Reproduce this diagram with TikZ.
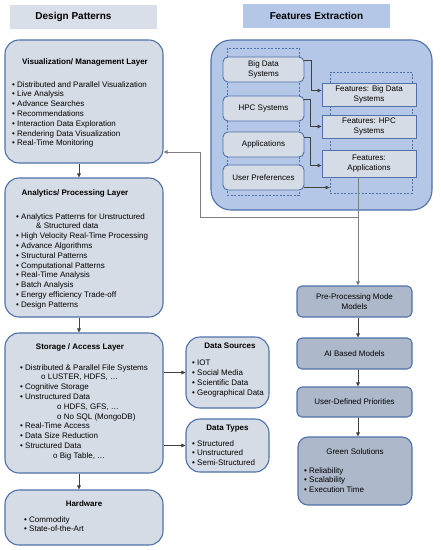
\documentclass[tikz,border=0pt]{standalone}
\usepackage{fontspec}
\setmainfont{Liberation Sans}
\usetikzlibrary{positioning,arrows.meta}

\definecolor{hdrgray}{HTML}{D9DFE9}
\definecolor{hdrblue}{HTML}{B4C7E7}
\definecolor{boxfill}{HTML}{D6DCE5}
\definecolor{boxline}{HTML}{4F71AA}
\definecolor{stepfill}{HTML}{ADB9CA}
\definecolor{linkgray}{HTML}{404040}
\definecolor{fbgray}{HTML}{7F7F7F}

\tikzset{
  hdr/.style={fill=#1, minimum width=147, minimum height=24, inner sep=0pt},
  hdrtxt/.style={font=\fontsize{10}{12}\selectfont\bfseries, inner sep=0pt},
  ttl/.style={font=\fontsize{8}{9.8}\selectfont\bfseries, inner sep=0pt},
  lst/.style={font=\fontsize{8}{9.8}\selectfont, align=left, inner sep=0pt, anchor=north west},
  layer/.style={draw=boxline, fill=boxfill, line width=1.1pt, rounded corners=14pt,
    minimum width=158, inner sep=0pt},
  inbox/.style={draw=boxline, fill=boxfill, line width=0.9pt, rounded corners=5pt,
    minimum width=81, minimum height=25, align=center, inner sep=0pt,
    font=\fontsize{8}{9.8}\selectfont},
  featbox/.style={draw=boxline, fill=boxfill, line width=0.9pt,
    minimum width=94, minimum height=23, align=center, inner sep=0pt,
    font=\fontsize{8}{9.8}\selectfont},
  stepbox/.style={draw=boxline, fill=stepfill, line width=1.1pt, rounded corners=5pt,
    minimum width=115, minimum height=31, align=center, inner sep=0pt,
    font=\fontsize{8}{9.8}\selectfont},
  dashbox/.style={draw=boxline, line width=0.8pt, dash pattern=on 2pt off 1.5pt, inner sep=0pt},
  link/.style={draw=linkgray, line width=0.7pt, -{Triangle[length=4pt,width=3.6pt]}},
  fb/.style={draw=fbgray, line width=0.8pt}
}

\begin{document}
\begin{tikzpicture}[x=1pt,y=-1pt]
\useasboundingbox (0,0) rectangle (440,550);

% headers
\node[hdr=hdrgray] (dph) at (83.5,17) {};
\node[hdrtxt] (dpt) at (73.5,17) {Design Patterns};
\node[hdr=hdrblue] (feh) at (316.5,16) {};
\node[hdrtxt] (fet) at (316.5,16) {Features Extraction};

% design patterns column
\node[layer, minimum height=123] (vis) at (84,101.5) {};
\node[ttl] (vist) at (85,62) {Visualization/ Management Layer};
\node[lst] (visl) at (12,81) {• Distributed and Parallel Visualization\\
• Live Analysis\\ • Advance Searches\\ • Recommendations\\
• Interaction Data Exploration\\ • Rendering Data Visualization\\
• Real-Time Monitoring};

\node[layer, minimum height=139] (ana) at (84,247.5) {};
\node[ttl] (anat) at (75,193) {Analytics/ Processing Layer};
\node[lst] (anal) at (16,213) {• Analytics Patterns for Unstructured\\
\hspace*{20pt}\& Structured data\\ • High Velocity Real-Time Processing\\
• Advance Algorithms\\ • Structural Patterns\\ • Computational Patterns\\
• Real-Time Analysis\\ • Batch Analysis\\ • Energy efficiency Trade-off\\
• Design Patterns};

\node[layer, minimum height=140] (sto) at (84,403) {};
\node[ttl] (stot) at (80,347) {Storage / Access Layer};
\node[lst] (stol) at (20,364) {• Distributed \& Parallel File Systems\\
\hspace*{21pt}o LUSTER, HDFS, …\\ • Cognitive Storage\\ • Unstructured Data\\
\hspace*{37pt}o HDFS, GFS, …\\ \hspace*{37pt}o No SQL (MongoDB)\\
• Real-Time Access\\ • Data Size Reduction\\ • Structured Data\\
\hspace*{33pt}o Big Table, …};

\node[layer, minimum height=55] (hw) at (84,517.5) {};
\node[ttl] (hwt) at (84,504) {Hardware};
\node[lst] (hwl) at (24,516) {• Commodity\\ • State-of-the-Art};

\node[layer, minimum width=83, minimum height=71] (src) at (227.5,372.5) {};
\node[ttl] (srct) at (230,346) {Data Sources};
\node[lst] (srcl) at (192,360) {• IOT\\ • Social Media\\ • Scientific Data\\ • Geographical Data};

\node[layer, minimum width=83, minimum height=53] (typ) at (227.5,445.5) {};
\node[ttl] (typt) at (227.5,429) {Data Types};
\node[lst] (typl) at (192,440) {• Structured\\ • Unstructured\\ • Semi-Structured};

\draw[link] ([xshift=-5]vis.south) -- ([xshift=-5]ana.north);
\draw[link] ([xshift=-5]ana.south) -- ([xshift=-5]sto.north);
\draw[link] ([xshift=-5]sto.south) -- ([xshift=-5]hw.north);
\draw[link] (sto.east |- src) -- (src.west);
\draw[link] (sto.east |- typ) -- (typ.west);

% features extraction
\node[draw=boxline, fill=hdrblue, line width=1.1pt, rounded corners=20pt,
  minimum width=221, minimum height=170] (fe) at (321.5,125) {};
\node[dashbox, minimum width=72, minimum height=147] (dashl) at (263,121.5) {};
\node[dashbox, minimum width=82, minimum height=121] (dashr) at (371,132.5) {};

\node[inbox] (bds) at (263.5,69.5) {Big Data\\Systems};
\node[inbox] (hpc) at (263.5,108.5) {HPC Systems};
\node[inbox] (app) at (263.5,144.5) {Applications};
\node[inbox] (usr) at (263.5,177.5) {User Preferences};

\node[featbox] (fbds) at (369,94.5) {Features: Big Data\\Systems};
\node[featbox] (fhpc) at (369,126.5) {Features: HPC\\Systems};
\node[featbox, minimum height=27] (fapp) at (369,163.5) {Features:\\Applications};

\draw[link] ([yshift=9]bds.east) -- ++(7,0) |- ([yshift=4]fbds.west);
\draw[link] ([yshift=9]hpc.east) -- ++(6,0) |- (fhpc.west);
\draw[link] ([yshift=7]app.east) -- ++(6,0) |- ([yshift=-2]fapp.west);
\draw[link] ([yshift=-10]usr.east) -- ([yshift=-10]usr.east -| dashr.west);

% processing chain
\node[stepbox] (pre) at (354.5,301.5) {Pre-Processing Mode\\Models};
\node[stepbox] (ai) at (354.5,353.5) {AI Based Models};
\node[stepbox, minimum height=30] (udp) at (354.5,402) {User-Defined Priorities};
\node[stepbox, minimum width=114, minimum height=68, rounded corners=10pt] (grn) at (355,471) {};
\node[font=\fontsize{8}{9.8}\selectfont, inner sep=0pt] (grnt) at (355,452) {Green Solutions};
\node[lst] (grnl) at (304,467) {• Reliability\\ • Scalability\\ • Execution Time};

\coordinate (split) at ([xshift=-11]fapp.south);
\coordinate (fbk) at (200,152);
\draw[fb] (split) -- ++(0,40) -| (fbk);
\draw[fb, -{Triangle[length=4pt,width=3.6pt]}] (fbk) -- (fbk -| vis.east);
\draw[fb, -{Triangle[length=4pt,width=3.6pt,fill=linkgray]}] (split) -- (split |- pre.north);
\draw[link] (pre.south -| split) -- (ai.north -| split);
\draw[link] (ai.south -| split) -- (udp.north -| split);
\draw[link] (udp.south -| split) -- (grn.north -| split);
\end{tikzpicture}
\end{document}
